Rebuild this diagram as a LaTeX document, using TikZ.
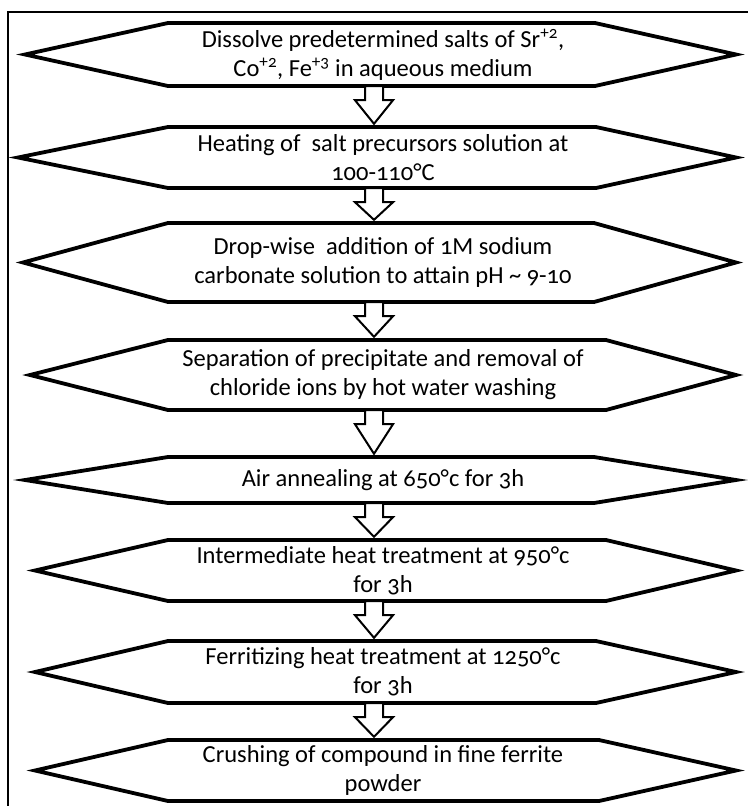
\documentclass[tikz,border=0pt]{standalone}
\usepackage{fontspec}
\setmainfont{Carlito}[Numbers=OldStyle]
\usetikzlibrary{calc}
\newcommand\hexstep[6]{%
  \draw[hexline] (168,#2) -- (#5,#2) -- (736,{(#2+#3)/2}) -- (#5,#3) -- (168,#3) -- (#4+6,{(#2+#3)/2}) -- cycle;
  \node[steptext, minimum height={#3-#2}] (#1) at (383,{(#2+#3)/2}) {#6};
}
\newcommand\stepflow[2]{%
  \draw[blockarr] let \p1=(#1.south), \p2=(#2.north) in
    (\x1-18pt,\y1) -- (\x1-18pt,\y1-14pt) -- (\x1-28pt,\y1-14pt) -- (\x1-9pt,\y2+3pt)
    -- (\x1+10pt,\y1-14pt) -- (\x1,\y1-14pt) -- (\x1,\y1) -- cycle;
}
\begin{document}
\begin{tikzpicture}[x=1pt,y=-1pt,
  steptext/.style={inner sep=0pt, align=center, font=\fontsize{24.5}{29}\selectfont, minimum width=430pt},
  hexline/.style={line width=3.8pt, line join=miter, fill=white},
  blockarr/.style={line width=2pt, fill=white, line join=miter},
  frameline/.style={line width=1.4pt}]
\useasboundingbox (0,0) rectangle (748,806);
\draw[frameline] (8,806) -- (8,12) -- (748,12);
\hexstep{s1}{23}{86}{19}{595}{Dissolve predetermined salts of Sr\textsuperscript{+2},\\Co\textsuperscript{+2}, Fe\textsuperscript{+3} in aqueous medium}
\hexstep{s2}{127}{188}{12}{596}{Heating of\ \ salt precursors solution at\\100-110°C}
\hexstep{s3}{223}{302}{17}{594}{Drop-wise\ \ addition of 1M sodium\\carbonate solution to attain pH \textasciitilde\ 9-10}
\hexstep{s4}{340}{410}{24}{606}{Separation of precipitate and removal of\\chloride ions by hot water washing}
\hexstep{s5}{457}{503}{19}{594}{Air annealing at 650°c for 3h}
\hexstep{s6}{540}{601}{29}{606}{Intermediate heat treatment at 950°c\\for 3h}
\hexstep{s7}{641}{703}{29}{596}{Ferritizing heat treatment at 1250°c\\for 3h}
\hexstep{s8}{740}{801}{29}{599}{Crushing of compound in fine ferrite\\powder}
\stepflow{s1}{s2}
\stepflow{s2}{s3}
\stepflow{s3}{s4}
\stepflow{s4}{s5}
\stepflow{s5}{s6}
\stepflow{s6}{s7}
\stepflow{s7}{s8}
\end{tikzpicture}
\end{document}
